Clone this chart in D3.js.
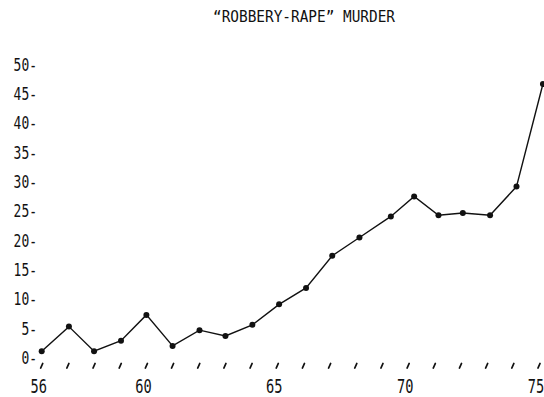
<!DOCTYPE html>
<html>
<head>
<meta charset="utf-8">
<script src="https://cdn.jsdelivr.net/npm/d3@7/dist/d3.min.js"></script>
<style>
html,body{margin:0;padding:0;background:#fff;}
svg{display:block;}
text{font-family:"DejaVu Sans Mono",monospace;fill:#111;}
</style>
</head>
<body>
<script>
const title = "\u201CROBBERY-RAPE\u201D MURDER";
const years = [56,57,58,59,60,61,62,63,64,65,66,67,68,69,70,71,72,73,74,75];
// plotted (hand-drawn) year positions
const yearsPlotted = [56.0,57.04,58.0,59.03,60.0,61.0,62.03,63.02,64.05,65.07,66.1,67.1,68.14,69.34,70.23,71.16,72.09,73.13,74.14,75.15];
const values = [0.9,5.1,0.9,2.7,7.1,1.8,4.5,3.5,5.4,8.9,11.7,17.2,20.3,23.9,27.3,24.1,24.5,24.1,29.0,46.5];
const yTicks = [0,5,10,15,20,25,30,35,40,45,50];
const xLabels = [56,60,65,70,75];

const W = 544, H = 397;
const svg = d3.select("body").append("svg").attr("width", W).attr("height", H);

const x = d3.scaleLinear().domain([56,75]).range([41.7,539]);
const y = d3.scaleLinear().domain([0,50]).range([356.5,63.5]);

// title
svg.append("text")
  .attr("x", 213).attr("y", 21.5)
  .attr("font-size", 16)
  .attr("textLength", 182).attr("lengthAdjust", "spacingAndGlyphs")
  .text(title);

// y axis (labels with dash)
const yAxis = d3.axisLeft(y).tickValues(yTicks).tickSize(0).tickFormat(d => d + "-");
const gy = svg.append("g").attr("transform", "translate(37,0)").call(yAxis);
gy.select(".domain").remove();
gy.selectAll("text")
  .attr("x", 0).attr("dy", null).attr("y", 0)
  .attr("font-size", 18).attr("font-family", "DejaVu Sans Mono")
  .attr("fill", "#111")
  .attr("text-anchor", "end")
  .attr("transform", "translate(0,6.8) scale(0.72,1)");

// x axis labels
const xAxis = d3.axisBottom(x).tickValues(xLabels).tickSize(0).tickFormat(d => d);
const gx = svg.append("g").attr("transform", "translate(-3.5,0)").call(xAxis);
gx.select(".domain").remove();
gx.selectAll("text")
  .attr("y", 0).attr("dy", null)
  .attr("font-size", 19).attr("font-family", "DejaVu Sans Mono")
  .attr("fill", "#111")
  .attr("text-anchor", "middle")
  .attr("transform", "translate(0,392.5) scale(0.72,1)");

// slanted tick marks at every year
svg.append("g").selectAll("line").data(years).join("line")
  .attr("x1", d => x(d) - 1).attr("y1", 368)
  .attr("x2", d => x(d) + 1).attr("y2", 363.5)
  .attr("stroke", "#111").attr("stroke-width", 1.8).attr("stroke-linecap", "round");

// line
const pts = years.map((d,i) => [yearsPlotted[i], values[i]]);
svg.append("path")
  .datum(pts)
  .attr("fill", "none").attr("stroke", "#111").attr("stroke-width", 1.4)
  .attr("d", d3.line().x(d => x(d[0])).y(d => y(d[1])));

svg.append("g").selectAll("circle").data(pts).join("circle")
  .attr("cx", d => x(d[0])).attr("cy", d => y(d[1]))
  .attr("r", 3).attr("fill", "#111");
</script>
</body>
</html>
